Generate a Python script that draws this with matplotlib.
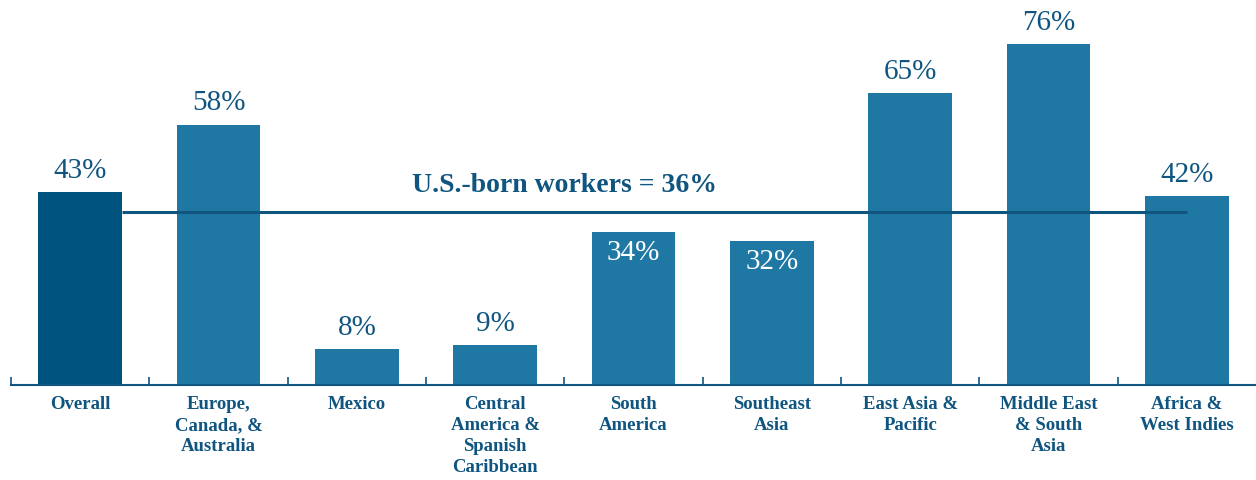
import matplotlib
matplotlib.use("Agg")
import matplotlib.pyplot as plt
import numpy as np

categories = ["Overall", "Europe,\nCanada, &\nAustralia", "Mexico",
              "Central\nAmerica &\nSpanish\nCaribbean", "South\nAmerica",
              "Southeast\nAsia", "East Asia &\nPacific", "Middle East\n& South\nAsia",
              "Africa &\nWest Indies"]
values = [43, 58, 8, 9, 34, 32, 65, 76, 42]
value_labels = ["43%", "58%", "8%", "9%", "34%", "32%", "65%", "76%", "42%"]
us_born_label = "U.S.-born workers = 36%"
us_born_line_level = 38.5  # as drawn in the reference

dark = "#00527f"
mid = "#1f78a4"
text_c = "#0f5580"

plt.rcParams['font.family'] = ['Liberation Serif', 'DejaVu Serif']

fig = plt.figure(figsize=(12.56, 4.8), dpi=100)
ax = fig.add_axes([11/1256, 95/480, 1 - 11/1256, 1 - 95/480])

x = np.arange(len(categories))
colors = [dark] + [mid] * (len(categories) - 1)
bw = 0.606
ax.bar(x, values, width=bw, color=colors, zorder=2)

ax.set_xlim(-0.5, len(categories) - 0.5)
ax.set_ylim(0, 385 / 4.49)

for s in ["top", "right", "left"]:
    ax.spines[s].set_visible(False)
ax.spines["bottom"].set_color(text_c)
ax.spines["bottom"].set_linewidth(1.5)
ax.set_yticks([])

# boundary ticks
ax.set_xticks(np.arange(len(categories)) - 0.5, minor=True)
ax.tick_params(axis="x", which="minor", direction="in", length=6, width=1.2, color=text_c)
ax.set_xticks(x)
ax.set_xticklabels(categories, fontsize=13.5, fontweight="bold", color=text_c, linespacing=1.3)
ax.tick_params(axis="x", which="major", length=0, pad=8)

# reference line
ax.hlines(us_born_line_level, 0 + bw / 2, len(categories) - 1, color=text_c, lw=2.2, zorder=3)
ax.text(3.5, us_born_line_level + 3.2, us_born_label, ha="center", va="bottom",
        fontsize=20, fontweight="bold", color=text_c)

for xi, v, lab in zip(x, values, value_labels):
    if v < us_born_line_level and v > 20:
        ax.text(xi, v - 1.8, lab, ha="center", va="top", fontsize=21, color="white", zorder=4)
    else:
        ax.text(xi, v + 1.8, lab, ha="center", va="bottom", fontsize=21, color=text_c, zorder=4)

fig.savefig("out.png", dpi=100)
